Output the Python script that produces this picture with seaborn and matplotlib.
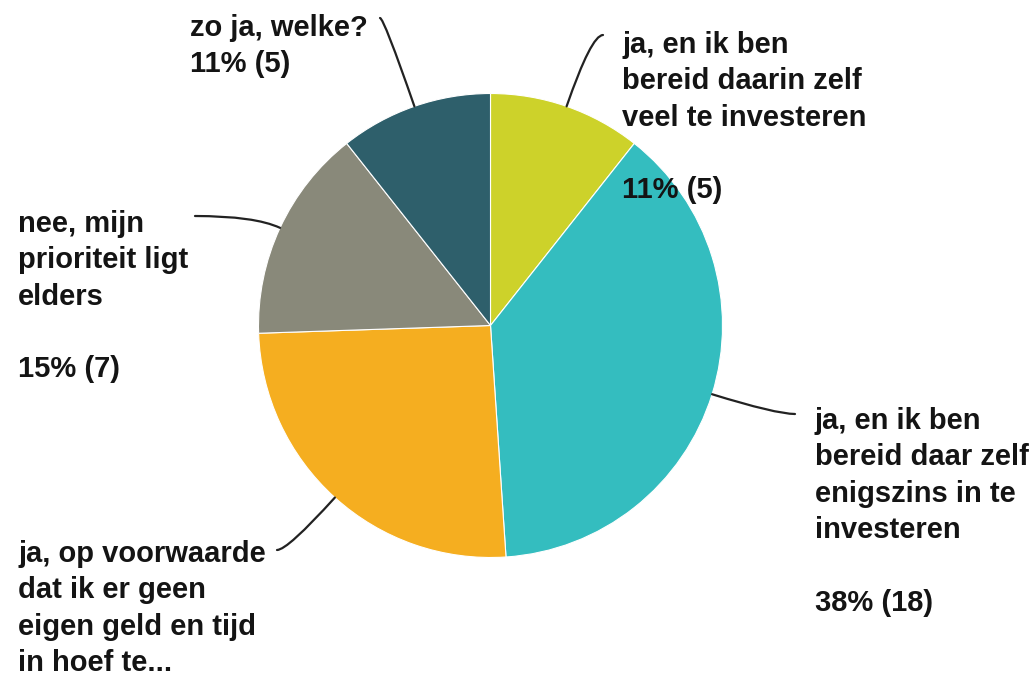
import numpy as np
import matplotlib
from matplotlib import pyplot as plt
import seaborn as sns

sns.set_theme(style="white")
plt.rcParams['font.family'] = ['Liberation Sans', 'DejaVu Sans']
plt.rcParams['font.weight'] = 'bold'

W, H = 1035, 674

answers = [
    "ja, en ik ben\nbereid daarin zelf\nveel te investeren",
    "ja, en ik ben\nbereid daar zelf\nenigszins in te\ninvesteren",
    "ja, op voorwaarde\ndat ik er geen\neigen geld en tijd\nin hoef te...",
    "nee, mijn\nprioriteit ligt\nelders",
    "zo ja, welke?",
]
counts = [5, 18, 12, 7, 5]
colors = sns.color_palette(["#CDD22A", "#34BDBF", "#F5AE20", "#89897A", "#2E5F6B"])

# label placement in pixels (left x, top y), leader end point, gap line between text and pct
label_pos = [(622, 31), (815, 407), (18, 540), (18, 210), (190, 14)]
leader_end = [(603, 35), (795, 414), (277, 550), (195, 216), (380, 18)]
blank_line = [True, True, True, True, False]
# the orange slice's percentage falls below the picture's bottom edge
show_pct = [True, True, False, True, True]

total = sum(counts)
pcts = [round(100 * c / total) for c in counts]

fig = plt.figure(figsize=(W / 100, H / 100), dpi=100)
ax = fig.add_axes([0, 0, 1, 1])

cx, cy, r = 490.5, H - 325.5, 232
wedges, _ = ax.pie(counts, colors=colors, startangle=90, counterclock=False,
                   center=(cx, cy), radius=r,
                   wedgeprops=dict(edgecolor='white', linewidth=0.8))
ax.set_xlim(0, W)
ax.set_ylim(0, H)
ax.set_aspect('equal')
ax.axis('off')

for w, txt, c, p, (tx, ty), (lx, ly), gap, show in zip(wedges, answers, counts, pcts,
                                                        label_pos, leader_end, blank_line, show_pct):
    mid = np.deg2rad((w.theta1 + w.theta2) / 2)
    ex, ey = cx + r * np.cos(mid), cy + r * np.sin(mid)
    label = txt
    if show:
        label += ("\n\n" if gap else "\n") + f"{p}% ({c})"
    ax.text(tx, H - ty, label, ha='left', va='top',
            fontsize=21, fontweight='bold', color='#141414', linespacing=1.38)
    ax.annotate("", xy=(ex, ey), xytext=(lx, H - ly),
                arrowprops=dict(arrowstyle='-', color='#222222', lw=1.6,
                                shrinkA=0, shrinkB=0,
                                connectionstyle=f"angle3,angleA=0,angleB={np.rad2deg(mid):.1f}"))

plt.savefig('out.png', dpi=100)
